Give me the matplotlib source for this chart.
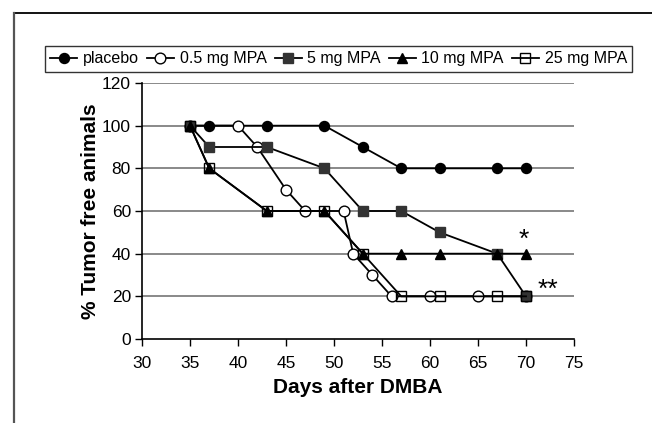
import matplotlib.pyplot as plt
from matplotlib.lines import Line2D

plt.rcParams['font.family'] = ['Liberation Sans', 'DejaVu Sans']

# datos
dias = [35, 37, 43, 49, 53, 57, 61, 67, 70]
placebo = [100, 100, 100, 100, 90, 80, 80, 80, 80]
dias_05 = [35, 40, 42, 45, 47, 51, 52, 54, 56, 60, 65, 70]
mpa_05 = [100, 100, 90, 70, 60, 60, 40, 30, 20, 20, 20, 20]
mpa_5 = [100, 90, 90, 80, 60, 60, 50, 40, 20]
mpa_10 = [100, 80, 60, 60, 40, 40, 40, 40, 40]
mpa_25 = [100, 80, 60, 60, 40, 20, 20, 20, 20]

etiquetas = ["placebo", "0.5 mg MPA", "5 mg MPA", "10 mg MPA", "25 mg MPA"]
yticks = [0, 20, 40, 60, 80, 100, 120]
xticks = [30, 35, 40, 45, 50, 55, 60, 65, 70, 75]

fig = plt.figure(figsize=(6.52, 4.23), dpi=100)
ax = fig.add_axes([142 / 652, 1 - 339 / 423, 432 / 652, 256 / 423])

for y in yticks[1:]:
    ax.axhline(y, color="#808080", lw=1.3, zorder=0)

ax.plot(dias, placebo, color="black", lw=1.3, marker="o", ms=7.2,
        mfc="black", mec="black", label=etiquetas[0], zorder=2)
ax.plot(dias_05, mpa_05, color="black", lw=1.3, marker="o", ms=7.7,
        mfc="white", mec="black", mew=1, label=etiquetas[1], zorder=3)
ax.plot(dias, mpa_5, color="black", lw=1.3, marker="s", ms=7.8,
        mfc="#333333", mec="#333333", label=etiquetas[2], zorder=4)
ax.plot(dias, mpa_10, color="black", lw=1.3, marker="^", ms=7.8,
        mfc="black", mec="black", label=etiquetas[3], zorder=5)
ax.plot(dias, mpa_25, color="black", lw=1.3, marker="s", ms=7.8,
        mfc="none", mec="black", mew=1, label=etiquetas[4], zorder=6)

ax.text(69.8, 46.5, "*", fontsize=19, ha="center", va="center")
ax.text(72.3, 23, "**", fontsize=19, ha="center", va="center")

ax.set_xlim(30, 75)
ax.set_ylim(0, 120)
ax.set_xticks(xticks)
ax.set_yticks(yticks)
ax.tick_params(direction="out", length=5, width=1, labelsize=12.5, color="black")
ax.tick_params(axis="x", pad=7)
ax.tick_params(axis="y", pad=3)
ax.spines["top"].set_visible(False)
ax.spines["right"].set_visible(False)
ax.spines["left"].set_linewidth(1.2)
ax.spines["bottom"].set_linewidth(1.2)
ax.set_xlabel("Days after DMBA", fontsize=15, fontweight="bold", labelpad=5)
ax.set_ylabel("% Tumor free animals", fontsize=15, fontweight="bold", labelpad=1)

leg = fig.legend(loc="center", bbox_to_anchor=(338.5 / 652, 1 - 59 / 423), ncol=5,
                 fontsize=11.5, frameon=True, fancybox=False, edgecolor="black",
                 handlelength=1.7, handletextpad=0.35, columnspacing=0.5,
                 borderpad=0.35, borderaxespad=0)
leg.get_frame().set_linewidth(1)

# marco exterior
fig.add_artist(Line2D([14 / 652, 1], [1 - 13 / 423, 1 - 13 / 423], color="black", lw=1.3))
fig.add_artist(Line2D([14 / 652, 14 / 652], [0, 1 - 13 / 423], color="#555555", lw=1.6))

plt.savefig("out.png", dpi=100)
